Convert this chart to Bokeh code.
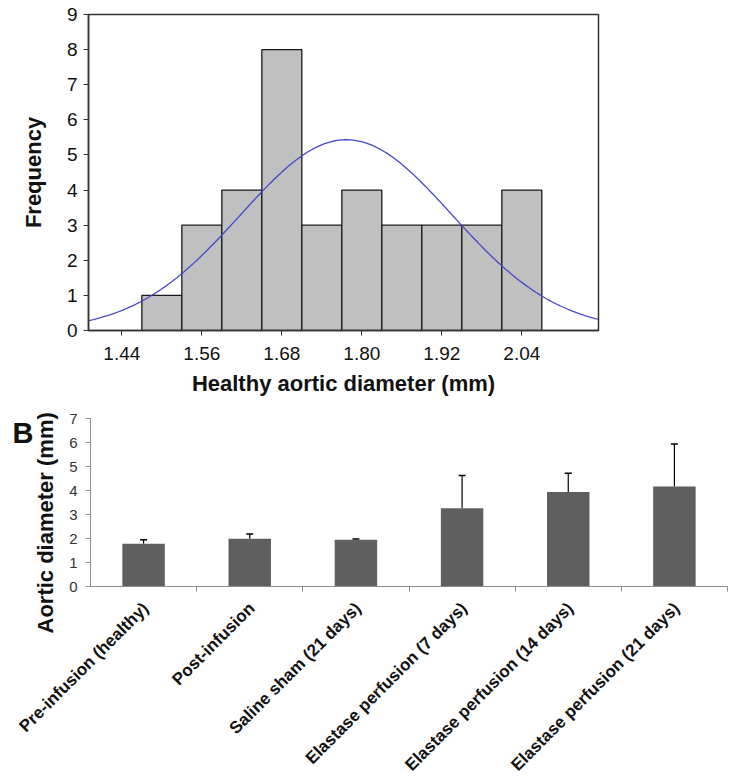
import numpy as np
from math import pi
from bokeh.plotting import figure
from bokeh.models import (Range1d, FixedTicker, ColumnDataSource, Whisker, TeeHead, Title,
                          LinearAxis, NumeralTickFormatter)
from bokeh.layouts import column
from bokeh.embed import file_html
from bokeh.resources import INLINE

# ---------------- data ----------------
bin_centers = [1.50, 1.56, 1.62, 1.68, 1.74, 1.80, 1.86, 1.92, 1.98, 2.04]
frequencies = [1, 3, 4, 8, 3, 4, 3, 3, 3, 4]
bin_width = 0.06
hist_ticks = [1.44, 1.56, 1.68, 1.80, 1.92, 2.04]
freq_ticks = [0, 1, 2, 3, 4, 5, 6, 7, 8, 9]

groups = ["Pre-infusion (healthy)", "Post-infusion", "Saline sham (21 days)",
          "Elastase perfusion (7 days)", "Elastase perfusion (14 days)",
          "Elastase perfusion (21 days)"]
diameters = [1.78, 1.99, 1.95, 3.26, 3.94, 4.17]
errors = [0.17, 0.20, 0.03, 1.37, 0.78, 1.77]
diam_ticks = [0, 1, 2, 3, 4, 5, 6, 7]

FONT = "Liberation Sans"

# ---------------- top: histogram with normal fit ----------------
p1 = figure(width=731, height=400, x_range=Range1d(1.39, 2.155), y_range=Range1d(0, 9),
            output_backend="svg", toolbar_location=None, frame_align=False,
            min_border_left=88, min_border_right=133, min_border_top=14, min_border_bottom=70)
p1.vbar(x=bin_centers, width=bin_width, top=frequencies, bottom=0,
        fill_color="#c0c0c0", line_color="#1a1a1a", line_width=1.3)

c = np.array(bin_centers)
f = np.array(frequencies)
n = f.sum()
mean = (c * f).sum() / n
sd = np.sqrt(((c - mean) ** 2 * f).sum() / (n - 1))
xs = np.linspace(1.39, 2.155, 300)
ys = n * bin_width * np.exp(-0.5 * ((xs - mean) / sd) ** 2) / (sd * np.sqrt(2 * np.pi))
p1.line(xs, ys, line_color="#4646cc", line_width=1.3)

p1.xgrid.visible = False
p1.ygrid.visible = False
p1.outline_line_color = "#333333"
p1.outline_line_width = 1.5
p1.xaxis.ticker = FixedTicker(ticks=hist_ticks)
p1.xaxis.formatter = NumeralTickFormatter(format="0.00")
p1.yaxis.ticker = FixedTicker(ticks=freq_ticks)
p1.xaxis.axis_label = "Healthy aortic diameter (mm)"
p1.yaxis.axis_label = "Frequency"
for ax in (p1.xaxis, p1.yaxis):
    ax.axis_line_color = "#333333"
    ax.axis_line_width = 1.5
    ax.major_tick_line_color = "#333333"
    ax.major_tick_out = 5
    ax.major_tick_in = 0
    ax.minor_tick_line_color = None
    ax.major_label_text_font = FONT
    ax.major_label_text_font_size = "19px"
    ax.major_label_text_color = "#111111"
    ax.axis_label_text_font = FONT
    ax.axis_label_text_font_size = "22px"
    ax.axis_label_text_font_style = "bold"
    ax.axis_label_text_color = "#111111"
p1.xaxis.major_label_standoff = 11
p1.xaxis.axis_label_standoff = 8
p1.yaxis.major_label_standoff = 6
p1.yaxis.axis_label_standoff = 18

# ---------------- bottom: bar chart with error bars ----------------
slots = list(range(len(groups)))
centers = [i + 0.5 for i in slots]
boundaries = [i + 1.0 for i in slots]
label_pos = [i + 0.52 for i in slots]   # rotated labels end just right of each bar centre

p2 = figure(width=731, height=384, x_range=Range1d(0, len(groups)), y_range=Range1d(0, 7),
            output_backend="svg", toolbar_location=None, frame_align=False,
            min_border_left=90, min_border_right=4, min_border_top=18, min_border_bottom=198)
p2.xgrid.visible = False
p2.ygrid.visible = False
p2.outline_line_color = None

src = ColumnDataSource(dict(x=centers, val=diameters,
                            up=[v + e for v, e in zip(diameters, errors)]))
p2.vbar(x="x", top="val", width=0.4, source=src, fill_color="#5f5f5f", line_color=None)
p2.add_layout(Whisker(source=src, base="x", lower="val", upper="up",
                      line_color="black", line_width=1.2, lower_head=None,
                      upper_head=TeeHead(size=7, line_color="black", line_width=1.5)))

xa = p2.xaxis[0]
xa.ticker = FixedTicker(ticks=label_pos, minor_ticks=boundaries)
xa.major_label_overrides = {x: g for x, g in zip(label_pos, groups)}
xa.major_label_orientation = pi / 4
xa.axis_line_color = "#8c8c8c"
xa.major_tick_line_color = None
xa.minor_tick_line_color = "#8c8c8c"
xa.minor_tick_out = 5
xa.minor_tick_in = 0
xa.major_label_text_font = FONT
xa.major_label_text_font_size = "17px"
xa.major_label_text_font_style = "bold"
xa.major_label_text_color = "#111111"
xa.major_label_standoff = 13

p2.yaxis.ticker = FixedTicker(ticks=diam_ticks)
ya = p2.yaxis[0]
ya.axis_line_color = "#8c8c8c"
ya.major_tick_line_color = "#8c8c8c"
ya.major_tick_out = 5
ya.major_tick_in = 0
ya.minor_tick_line_color = None
ya.major_label_text_font = FONT
ya.major_label_text_font_size = "15px"
ya.major_label_text_color = "#333333"
ya.major_label_standoff = 8

# y-axis title: longer than the axis, starts below the axis' bottom end
p2.add_layout(Title(text="Aortic diameter (mm)", align="left", offset=-47,
                    text_font=FONT, text_font_size="22px", text_font_style="bold",
                    text_color="#111111", standoff=18), "left")

# panel letter "B", drawn as the single label of an extra, line-less left axis
panel_axis = LinearAxis(ticker=FixedTicker(ticks=[6.4]), major_label_overrides={6.4: "B"},
                        axis_line_color=None, major_tick_line_color=None,
                        minor_tick_line_color=None, major_tick_out=0, major_tick_in=0,
                        major_label_standoff=-12,
                        major_label_text_font=FONT, major_label_text_font_size="29px",
                        major_label_text_font_style="bold", major_label_text_color="#111111")
p2.add_layout(panel_axis, "left")

layout = column(p1, p2)
open("out.html", "w").write(file_html(layout, INLINE))
